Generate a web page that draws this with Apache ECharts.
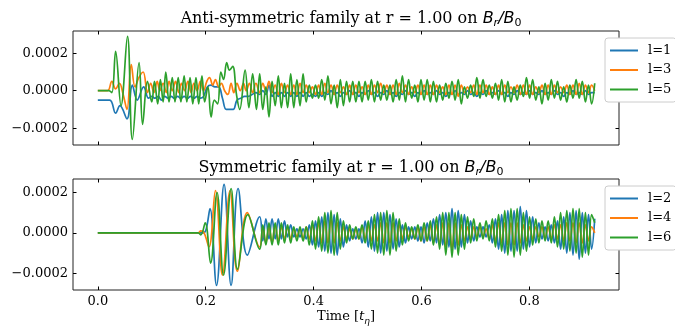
<!DOCTYPE html>
<html>
<head>
<meta charset="utf-8">
<script src="https://cdn.jsdelivr.net/npm/echarts@6/dist/echarts.min.js"></script>
<style>
  html, body { margin: 0; padding: 0; background: #fff; }
  #main { width: 675px; height: 327px; }
</style>
</head>
<body>
<div id="main"></div>
<script>
// values are in units of 1e-5 (B_r/B_0), time in t_eta
var xTicks = [0, 0.2, 0.4, 0.6, 0.8];
var yTicks = [-20, 0, 20];

// tail part of every curve: one value per half period, starting at tailStart
var tailStart = 0.3;
var tailStep = 0.00575;

// ---- anti-symmetric family (top) ----
var l1Head = [[0,-5],[0.022,-5],[0.033,-12],[0.041,-8],[0.054,-15],[0.064,3],[0.073,-5],[0.085,2],[0.094,-4],
  [0.100,-3],[0.106,-4],[0.112,-3],[0.118,-5],[0.124,-3],[0.130,-4],[0.136,-3],[0.142,-4],[0.148,-3],[0.154,-4],
  [0.160,-3],[0.166,-4],[0.172,-3],[0.178,-4],[0.184,-3],[0.190,-4],[0.196,-3],[0.203,2],[0.210,3],[0.217,2],
  [0.224,2],[0.231,-4],[0.238,-10],[0.245,-10],[0.251,-10],[0.258,-5],[0.265,-4],[0.272,-3],[0.279,-3],[0.286,-2],[0.293,-1]];
var l1Tail = [-2,0,-2,3,-3,-1,-3,-1,-3,-1, -3,-1,-3,-1,-3,-1,-3,-2,-3,-1, -3,-1,-2,0,-2,-1,-3,-1,-2,0,
  -2,-1,-3,-1,-2,0,-2,-1,-3,-1, -2,0,-2,-1,-3,-1,-2,0,-2,-1, -3,-1,-2,0,-2,-1,-2,0,-2,-1,
  -3,-1,-2,0,-2,-1,-2,0,-2,-1, -3,-1,-2,0,-2,-1,-2,0,-2,-1, -3,-1,-2,0,-2,-1,-2,0,-2,-1,
  -2,0,-2,-1,-2,0,-2,-1,-3,-1, -2,0,-2,-1,-2,0,-2,-1,-1];

var l3Head = [[0,0],[0.018,0],[0.026,5],[0.033,1],[0.040,4],[0.047,-2],[0.054,-10],[0.062,14],[0.069,2],[0.076,7],
  [0.084,10],[0.092,-1],[0.098,4],[0.104,-1],[0.110,5],[0.115,0],[0.121,4],[0.127,-1],[0.132,5],[0.138,0],[0.144,5],
  [0.150,-1],[0.155,4],[0.161,0],[0.167,5],[0.173,-1],[0.178,4],[0.184,0],[0.190,5],[0.196,0],[0.202,5],[0.207,7],
  [0.213,3],[0.218,6],[0.224,2],[0.229,4],[0.235,0],[0.241,-2],[0.247,4],[0.252,-1],[0.258,4],[0.264,0],[0.270,4],
  [0.275,0],[0.281,4],[0.287,-1],[0.293,4]];
var l3Tail = [-1,4,0,5,-1,3,-2,4,-1,3, -2,3,-2,4,-1,3,-1,2,-2,3, -2,4,-1,3,-2,3,-1,2,-2,3,
  -2,3,-1,2,-2,3,-2,3,-1,4, -1,3,-2,3,-2,4,-1,3,-2,2, -1,3,-2,3,-2,3,-2,3,-1,2,
  -2,3,-2,3,-3,3,-1,2,-1,3, -2,3,-1,3,-2,2,-2,3,-2,3, -1,2,-1,3,-2,3,-2,3,-2,2,
  -1,3,-2,3,-2,3,-1,2,-1,3, -2,3,-2,4,-2,3,-1,3,0];

var l5Head = [[0,0],[0.02,0],[0.026,-1],[0.033,21],[0.043,-8],[0.055,29],[0.064,-26],[0.0765,15],[0.083,-18],
  [0.092,5],[0.100,-6],[0.105,5],[0.111,-7],[0.116,6],[0.121,-6],[0.126,10],[0.132,-6],[0.138,7],[0.143,-6],
  [0.149,7],[0.154,-6],[0.160,8],[0.165,-6],[0.171,7],[0.176,-7],[0.182,7],[0.187,-7],[0.193,8],[0.198,-6],
  [0.204,2],[0.210,-14],[0.216,-5],[0.222,-7],[0.228,10],[0.233,6],[0.239,15],[0.244,11],[0.250,13],[0.257,-2],
  [0.263,-10],[0.273,11],[0.280,-9],[0.287,9],[0.294,-10]];
var l5Tail = [9,-10,2,-14,5,-8,8,-9,4,-9, 9,-9,6,-8,9,-6,3,-4,3,-4, 6,-5,8,-7,3,-9,6,-8,5,-6,
  5,-6,5,-6,5,-5,6,-6,5,-5, 3,-5,3,-6,6,-5,8,-6,6,-4, 3,-6,6,-5,6,-6,5,-6,3,-5,
  4,-4,5,-5,6,-7,2,-4,3,-3, 7,-4,6,-3,3,-4,4,-5,6,-6, 5,-6,2,-5,3,-3,7,-4,6,-5,
  2,-7,4,-5,6,-4,5,-5,2,-6, 3,-4,6,-4,5,-6,3,-7,4];

// ---- symmetric family (bottom) ----
var l2Head = [[0,0],[0.19,0],[0.196,0],[0.201,2],[0.208,12],[0.220,-26],[0.234,24],[0.247,-26],[0.260,22],[0.277,-11]];
var l2Tail = [8,-4,7,-3,7,-3,7,-3,6,-2, 4,-2,2,-2,2,-3,4,-6,6,-7, 8,-9,10,-10,9,-11,7,-7,4,-4,
  2,-3,2,-5,6,-7,8,-9,10,-10, 10,-9,9,-8,7,-7,4,-5,3,-3, 3,-4,3,-5,5,-4,7,-5,9,-6,
  10,-7,12,-8,11,-7,9,-5,6,-4, 3,-2,3,-2,4,-5,7,-8,9,-10, 11,-9,11,-9,13,-8,11,-7,8,-5,
  5,-3,3,-4,4,-5,6,-8,8,-10, 10,-11,11,-13,10,-10,9,-8,7];

var l4Head = [[0,0],[0.186,0],[0.191,1],[0.197,0],[0.206,-7],[0.218,21],[0.231,-21],[0.245,21],[0.2585,-19],[0.277,10]];
var l4Tail = [-7,3,-5,3,-5,4,-4,3,-3,3, -3,2,-2,2,-3,3,-3,4,-4,5, -5,6,-5,7,-5,5,-4,3,-3,2,
  -3,2,-3,3,-3,4,-4,4,-4,5, -5,5,-5,5,-4,4,-3,3,-2,2, -3,3,-4,3,-4,4,-5,4,-6,5,
  -7,5,-8,5,-6,4,-4,3,-3,3, -2,3,-2,2,-3,4,-4,5,-5,5, -6,5,-6,5,-5,4,-4,3,-3,3,
  -2,3,-3,3,-3,4,-3,4,-4,5, -4,5,-5,5,-5,4,-4,3,0];

var l6Head = [[0,0],[0.186,0],[0.191,-1],[0.199,5],[0.209,-15],[0.221,20],[0.233,-21],[0.247,22],[0.259,-18],[0.278,9]];
var l6Tail = [-8,4,-6,5,-6,5,-6,5,-5,4, -5,3,-4,3,-4,3,-6,6,-8,8, -9,10,-10,11,-11,10,-8,6,-5,4,
  -3,3,-3,4,-5,6,-8,9,-10,10, -11,11,-11,10,-9,7,-6,5,-4,3, -3,4,-4,5,-4,6,-6,8,-8,10,
  -11,10,-12,10,-11,9,-8,8,-5,7, -4,5,-3,6,-4,7,-7,9,-9,11, -11,12,-12,12,-11,10,-9,8,-6,7,
  -5,6,-4,6,-5,8,-7,10,-8,11, -9,12,-10,12,-12,10,-11,9,5];

function curve(head, tail) {
    var pts = head.slice();
    for (var i = 0; i < tail.length; i++) {
        pts.push([tailStart + i * tailStep, tail[i]]);
    }
    return pts;
}

var serif = 'DejaVu Serif';
var colors = ['#1f77b4', '#ff7f0e', '#2ca02c'];

function yFmt(v) {
    if (v === 0) return '0.0000';
    return (v < 0 ? '\u2212' : '') + Math.abs(v / 1e5).toFixed(4);
}

function xAxisCfg(grid, pos, showLabel, withName) {
    var ax = {
        type: 'value', gridIndex: grid, position: pos, min: -0.046, max: 0.966,
        axisLine: { show: false, onZero: false }, splitLine: { show: false },
        axisTick: { show: true, inside: true, length: 3.5, customValues: xTicks, lineStyle: { color: '#000', width: 1 } },
        axisLabel: { show: showLabel, customValues: xTicks, margin: 5, fontFamily: serif, fontSize: 13, color: '#000',
            formatter: function (v) { return v.toFixed(1); } }
    };
    if (withName) {
        ax.name = '{n|Time [}{i|t}{s|\u03b7}{n|]}';
        ax.nameLocation = 'middle';
        ax.nameGap = 18;
        ax.nameTextStyle = { rich: {
            n: { fontFamily: serif, fontSize: 13, color: '#000', lineHeight: 18 },
            i: { fontFamily: 'DejaVu Sans', fontStyle: 'italic', fontSize: 13, color: '#000', lineHeight: 18 },
            s: { fontFamily: 'DejaVu Sans', fontStyle: 'italic', fontSize: 9, color: '#000', lineHeight: 12, verticalAlign: 'bottom' }
        } };
    }
    return ax;
}

function yAxisCfg(grid, pos, lo, hi, showLabel) {
    return {
        type: 'value', gridIndex: grid, position: pos, min: lo, max: hi,
        axisLine: { show: false, onZero: false }, splitLine: { show: false },
        axisTick: { show: true, inside: true, length: 3.5, customValues: yTicks, lineStyle: { color: '#000', width: 1 } },
        axisLabel: { show: showLabel, customValues: yTicks, margin: 5, fontFamily: serif, fontSize: 13, color: '#000', formatter: yFmt }
    };
}

function titleText(word) {
    return '{n|' + word + ' family at r = 1.00 on }{i|B}{s|r}{i|/B}{z|0}';
}
var titleRich = {
    n: { fontFamily: serif, fontWeight: 'normal', fontSize: 16, color: '#000', lineHeight: 21 },
    i: { fontFamily: 'DejaVu Sans', fontWeight: 'normal', fontStyle: 'italic', fontSize: 16, color: '#000', lineHeight: 21 },
    s: { fontFamily: 'DejaVu Sans', fontWeight: 'normal', fontStyle: 'italic', fontSize: 11, color: '#000', lineHeight: 14, verticalAlign: 'bottom' },
    z: { fontFamily: 'DejaVu Sans', fontWeight: 'normal', fontSize: 11, color: '#000', lineHeight: 14, verticalAlign: 'bottom' }
};

function line(name, data, idx, color) {
    return {
        name: name, type: 'line', xAxisIndex: idx, yAxisIndex: idx, data: data,
        symbol: 'none', showSymbol: false, smooth: 0.4,
        lineStyle: { width: 1.7, color: color }, itemStyle: { color: color }
    };
}

function legendCfg(names, top) {
    return {
        data: names, orient: 'vertical', left: 605, top: top,
        icon: 'rect', itemWidth: 28, itemHeight: 2, itemGap: 4.5, padding: [5, 5],
        backgroundColor: '#fff', borderColor: '#cccccc', borderWidth: 1, borderRadius: 3,
        textStyle: { fontFamily: serif, fontSize: 13, color: '#000', lineHeight: 15, padding: [0, 0, 0, 5] }
    };
}

var myChart = echarts.init(document.getElementById('main'));
var option = {
    animation: false,
    backgroundColor: '#fff',
    title: [
        { text: titleText('Anti-symmetric'), left: 346, top: 3, textAlign: 'center', textStyle: { fontWeight: 'normal', rich: titleRich } },
        { text: titleText('Symmetric'), left: 346, top: 152, textAlign: 'center', textStyle: { fontWeight: 'normal', rich: titleRich } }
    ],
    grid: [
        { left: 73, top: 31, width: 546, height: 114, show: true, borderColor: '#222', borderWidth: 1 },
        { left: 73, top: 179, width: 546, height: 114, show: true, borderColor: '#222', borderWidth: 1 }
    ],
    xAxis: [
        xAxisCfg(0, 'bottom', false, false), xAxisCfg(1, 'bottom', true, true),
        xAxisCfg(0, 'top', false, false), xAxisCfg(1, 'top', false, false)
    ],
    yAxis: [
        yAxisCfg(0, 'left', -29, 31.9, true), yAxisCfg(1, 'left', -28.3, 26.7, true),
        yAxisCfg(0, 'right', -29, 31.9, false), yAxisCfg(1, 'right', -28.3, 26.7, false)
    ],
    legend: [
        legendCfg(['l=1', 'l=3', 'l=5'], 38),
        legendCfg(['l=2', 'l=4', 'l=6'], 186)
    ],
    series: [
        line('l=1', curve(l1Head, l1Tail), 0, colors[0]),
        line('l=3', curve(l3Head, l3Tail), 0, colors[1]),
        line('l=5', curve(l5Head, l5Tail), 0, colors[2]),
        line('l=2', curve(l2Head, l2Tail), 1, colors[0]),
        line('l=4', curve(l4Head, l4Tail), 1, colors[1]),
        line('l=6', curve(l6Head, l6Tail), 1, colors[2])
    ]
};
myChart.setOption(option);
</script>
</body>
</html>
